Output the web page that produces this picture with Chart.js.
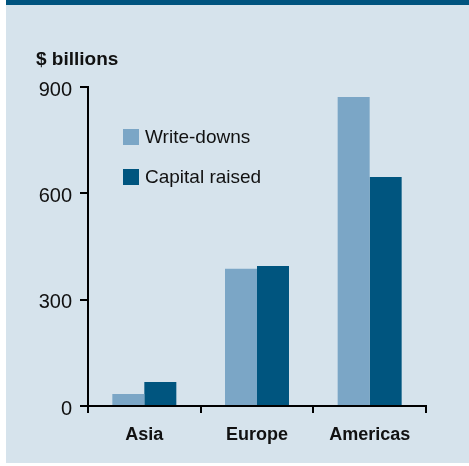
<!DOCTYPE html>
<html>
<head>
<meta charset="utf-8">
<script src="https://cdn.jsdelivr.net/npm/chart.js@4.4.0/dist/chart.umd.min.js"></script>
<style>
html, body { margin: 0; padding: 0; background: #fff; }
</style>
</head>
<body>
<canvas id="chart" width="469" height="466"></canvas>
<script>
// data
const regions = ['Asia', 'Europe', 'Americas'];
const writeDowns = [34, 387, 872];
const capitalRaised = [68, 395, 646];
const yTickValues = [0, 300, 600, 900];
const seriesNames = ['Write-downs', 'Capital raised'];

const lightBlue = '#7ba6c6';
const darkBlue = '#00557f';
const panelBg = '#d6e3ec';
const FONT = '"Liberation Sans", Arial, sans-serif';

// panel background, top band, title and legend
const decor = {
    id: 'decor',
    beforeDraw(chart) {
        const ctx = chart.ctx;
        ctx.save();
        ctx.fillStyle = '#fff';
        ctx.fillRect(0, 0, chart.width, chart.height);
        ctx.fillStyle = panelBg;
        ctx.fillRect(6, 5, chart.width - 6, 458);
        ctx.fillStyle = '#00547f';
        ctx.fillRect(6, 0, chart.width - 6, 5);
        ctx.restore();
    },
    afterDraw(chart) {
        const ctx = chart.ctx;
        ctx.save();
        ctx.fillStyle = '#111';
        ctx.font = 'bold 19px ' + FONT;
        ctx.textBaseline = 'alphabetic';
        ctx.fillText('$ billions', 36, 65);

        ctx.font = '19px ' + FONT;
        ctx.textBaseline = 'middle';
        chart.data.datasets.forEach((ds, i) => {
            const y = 129 + i * 40;
            ctx.fillStyle = ds.backgroundColor;
            ctx.fillRect(123, y, 16, 16);
            ctx.fillStyle = '#111';
            ctx.fillText(ds.label, 145, y + 9);
        });
        ctx.restore();
    }
};

new Chart(document.getElementById('chart'), {
    type: 'bar',
    data: {
        labels: regions,
        datasets: [
            { label: seriesNames[0], data: writeDowns, backgroundColor: lightBlue },
            { label: seriesNames[1], data: capitalRaised, backgroundColor: darkBlue }
        ]
    },
    options: {
        responsive: false,
        animation: false,
        devicePixelRatio: 1,
        layout: { padding: { top: 87, right: 43, bottom: 0, left: 0 } },
        datasets: {
            bar: { categoryPercentage: 0.568, barPercentage: 1, borderWidth: 0 }
        },
        plugins: {
            legend: { display: false },
            tooltip: { enabled: false },
            title: { display: false }
        },
        scales: {
            x: {
                grid: {
                    offset: true,
                    drawOnChartArea: false,
                    drawTicks: true,
                    tickLength: 7,
                    color: '#000',
                    lineWidth: 2
                },
                border: { display: true, color: '#000', width: 2 },
                ticks: {
                    color: '#111',
                    padding: 11,
                    font: { family: FONT, size: 18, weight: 'bold' }
                },
                afterFit(scale) { scale.height = 60; }
            },
            y: {
                min: 0,
                max: 900,
                afterBuildTicks(scale) {
                    scale.ticks = yTickValues.map(v => ({ value: v }));
                },
                grid: {
                    drawOnChartArea: false,
                    drawTicks: true,
                    tickLength: 8,
                    color: '#000',
                    lineWidth: 2
                },
                border: { display: true, color: '#000', width: 2 },
                ticks: {
                    color: '#111',
                    padding: 8,
                    labelOffset: 3,
                    font: { family: FONT, size: 20 }
                },
                afterFit(scale) { scale.width = 88; }
            }
        }
    },
    plugins: [decor]
});
</script>
</body>
</html>
